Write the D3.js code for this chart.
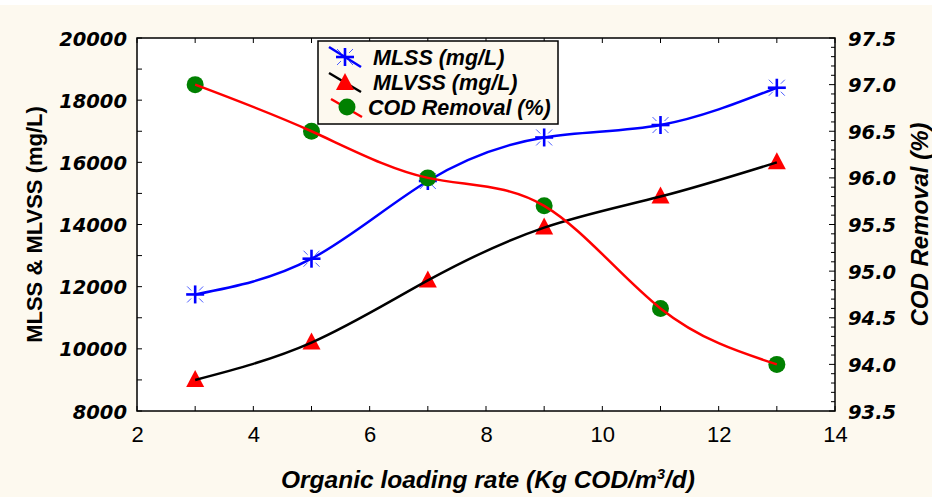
<!DOCTYPE html>
<html><head><meta charset="utf-8">
<script src="https://cdn.jsdelivr.net/npm/d3@7"></script>
<style>html,body{margin:0;padding:0;background:#fff;}svg{display:block;}</style>
</head><body>
<svg id="chart" width="932" height="497"></svg>
<script>
// ---- data ----
const olr = [3, 5, 7, 9, 11, 13];
const mlss = [11750, 12900, 15400, 16800, 17200, 18400];
const mlvss = [9000, 10200, 12200, 13900, 14900, 16000];
const codRemoval = [97.0, 96.5, 96.0, 95.7, 94.6, 94.0];
const xTickValues = [2, 4, 6, 8, 10, 12, 14];
const leftTickValues = [8000, 10000, 12000, 14000, 16000, 18000, 20000];
const rightTickValues = [93.5, 94.0, 94.5, 95.0, 95.5, 96.0, 96.5, 97.0, 97.5];
const seriesNames = ["MLSS (mg/L)", "MLVSS (mg/L)", "COD Removal (%)"];
const xTitle = "Organic loading rate (Kg COD/m";
const leftTitle = "MLSS & MLVSS (mg/L)";
const rightTitle = "COD Removal (%)";

// ---- layout ----
const W = 932, H = 497;
const L = 137, R = 835, T = 38, B = 411;
const cream = "#fdf9ef";
const svg = d3.select("#chart");

svg.append("rect").attr("x", 0).attr("y", 5).attr("width", W).attr("height", H - 5).attr("fill", cream);
svg.append("rect").attr("x", L).attr("y", T).attr("width", R - L).attr("height", B - T).attr("fill", "#fff");

const x = d3.scaleLinear().domain([2, 14]).range([L, R]);
const yL = d3.scaleLinear().domain([8000, 20000]).range([B, T]);
const yR = d3.scaleLinear().domain([93.5, 97.5]).range([B, T]);

const tickFont = "'DejaVu Sans', Verdana, sans-serif";
const arial = "'Liberation Sans', Arial, sans-serif";

// ticks (inward)
const g = svg.append("g").attr("stroke", "#000").attr("stroke-width", 1);
d3.range(2, 14.01, 1).forEach(v => {
  g.append("line").attr("x1", x(v)).attr("x2", x(v)).attr("y1", B).attr("y2", B - 5);
  g.append("line").attr("x1", x(v)).attr("x2", x(v)).attr("y1", T).attr("y2", T + 5);
});
d3.range(8000, 20001, 1000).forEach(v => {
  g.append("line").attr("x1", L).attr("x2", L + 5).attr("y1", yL(v)).attr("y2", yL(v));
});
d3.range(0, 41).forEach(i => {
  const v = 93.5 + i * 0.1;
  const len = (i % 5 === 0) ? 6 : 4;
  g.append("line").attr("x1", R).attr("x2", R - len).attr("y1", yR(v)).attr("y2", yR(v));
});

// tick labels
const xAxis = svg.append("g").attr("transform", `translate(0,${B})`)
  .call(d3.axisBottom(x).tickValues(xTickValues).tickSize(0).tickPadding(0).tickFormat(d3.format("d")));
xAxis.select(".domain").remove();
xAxis.selectAll("text").attr("y", 31).attr("dy", null)
  .style("font-family", arial).style("font-size", "22px").attr("fill", "#000");

const lAxis = svg.append("g").attr("transform", `translate(${L},0)`)
  .call(d3.axisLeft(yL).tickValues(leftTickValues).tickSize(0).tickPadding(10).tickFormat(d3.format("d")));
lAxis.select(".domain").remove();
lAxis.selectAll("text").attr("dy", "0.36em")
  .style("font-family", tickFont).style("font-size", "19.5px").style("font-weight", "bold").style("font-style", "italic").attr("fill", "#000");

const rAxis = svg.append("g").attr("transform", `translate(${R},0)`)
  .call(d3.axisRight(yR).tickValues(rightTickValues).tickSize(0).tickPadding(13).tickFormat(d3.format(".1f")));
rAxis.select(".domain").remove();
rAxis.selectAll("text").attr("dy", "0.36em")
  .style("font-family", tickFont).style("font-size", "19.5px").style("font-weight", "bold").style("font-style", "italic").attr("fill", "#000");

// axis titles
const xt = svg.append("text").attr("x", (L + R) / 2 + 2).attr("y", 488).attr("text-anchor", "middle")
  .style("font-family", arial).style("font-size", "24.5px").style("font-weight", "bold").style("font-style", "italic");
xt.append("tspan").text(xTitle);
xt.append("tspan").text("3").attr("dy", -9).style("font-size", "15px");
xt.append("tspan").text("/d)").attr("dy", 9);

svg.append("text").attr("transform", `translate(42,${(T + B) / 2}) rotate(-90)`).attr("text-anchor", "middle")
  .style("font-family", arial).style("font-size", "22px").style("font-weight", "bold").text(leftTitle);
svg.append("text").attr("transform", `translate(928,${(T + B) / 2}) rotate(-90)`).attr("text-anchor", "middle")
  .style("font-family", arial).style("font-size", "24px").style("font-weight", "bold").style("font-style", "italic").text(rightTitle);

// markers
function asterisk(sel, cx, cy) {
  const a = sel.append("g").attr("transform", `translate(${cx},${cy})`);
  a.append("line").attr("x1", -9).attr("x2", 9).attr("y1", 0).attr("y2", 0).attr("stroke", "#0000ff").attr("stroke-width", 2.6);
  a.append("line").attr("x1", 0).attr("x2", 0).attr("y1", -9).attr("y2", 9).attr("stroke", "#0000ff").attr("stroke-width", 2.6);
  [[1,1],[1,-1],[-1,1],[-1,-1]].forEach(([sx, sy]) => {
    a.append("line").attr("x1", sx * 4).attr("y1", sy * 4).attr("x2", sx * 8).attr("y2", sy * 8)
      .attr("stroke", "#4a5cff").attr("stroke-width", 1);
  });
}
function triangle(sel, cx, cy) {
  sel.append("path").attr("d", `M${cx},${cy - 10}L${cx + 9},${cy + 7}L${cx - 9},${cy + 7}Z`).attr("fill", "#ff0000");
}
function circle(sel, cx, cy) {
  sel.append("circle").attr("cx", cx).attr("cy", cy).attr("r", 8.5).attr("fill", "#008000");
}

const clip = svg.append("defs").append("clipPath").attr("id", "pc");
clip.append("rect").attr("x", L).attr("y", T).attr("width", R - L).attr("height", B - T);

const plot = svg.append("g");
const curve = d3.curveNatural;

// MLSS
olr.forEach((v, i) => asterisk(plot, x(v), yL(mlss[i])));
plot.append("path").datum(olr.map((v, i) => [x(v), yL(mlss[i])]))
  .attr("d", d3.line().curve(curve)).attr("fill", "none").attr("stroke", "#0000ff").attr("stroke-width", 2.5).attr("clip-path", "url(#pc)");
// MLVSS
olr.forEach((v, i) => triangle(plot, x(v), yL(mlvss[i])));
plot.append("path").datum(olr.map((v, i) => [x(v), yL(mlvss[i])]))
  .attr("d", d3.line().curve(curve)).attr("fill", "none").attr("stroke", "#000").attr("stroke-width", 2.5).attr("clip-path", "url(#pc)");
// COD
olr.forEach((v, i) => circle(plot, x(v), yR(codRemoval[i])));
plot.append("path").datum(olr.map((v, i) => [x(v), yR(codRemoval[i])]))
  .attr("d", d3.line().curve(curve)).attr("fill", "none").attr("stroke", "#ff0000").attr("stroke-width", 2.5).attr("clip-path", "url(#pc)");

// frame
svg.append("rect").attr("x", L).attr("y", T).attr("width", R - L).attr("height", B - T)
  .attr("fill", "none").attr("stroke", "#000").attr("stroke-width", 1.5);

// legend
const lg = svg.append("g");
lg.append("rect").attr("x", 318).attr("y", 41).attr("width", 240).attr("height", 83)
  .attr("fill", cream).attr("stroke", "#000").attr("stroke-width", 1.5);
const rows = [57, 82, 107];
lg.append("line").attr("x1", 329).attr("y1", 47).attr("x2", 361).attr("y2", 67).attr("stroke", "#0000ff").attr("stroke-width", 2.5);
asterisk(lg, 345, rows[0]);
lg.append("line").attr("x1", 329).attr("y1", 73).attr("x2", 361).attr("y2", 92).attr("stroke", "#000").attr("stroke-width", 2.5);
triangle(lg, 345, rows[1] + 1);
lg.append("line").attr("x1", 331).attr("y1", 99).attr("x2", 362).attr("y2", 117).attr("stroke", "#ff0000").attr("stroke-width", 2.5);
circle(lg, 347, rows[2]);
const textX = [373, 373, 368];
seriesNames.forEach((n, i) => {
  lg.append("text").attr("x", textX[i]).attr("y", rows[i] + 8)
    .style("font-family", arial).style("font-size", "21.5px").style("font-weight", "bold").style("font-style", "italic").text(n);
});
</script>
</body></html>
